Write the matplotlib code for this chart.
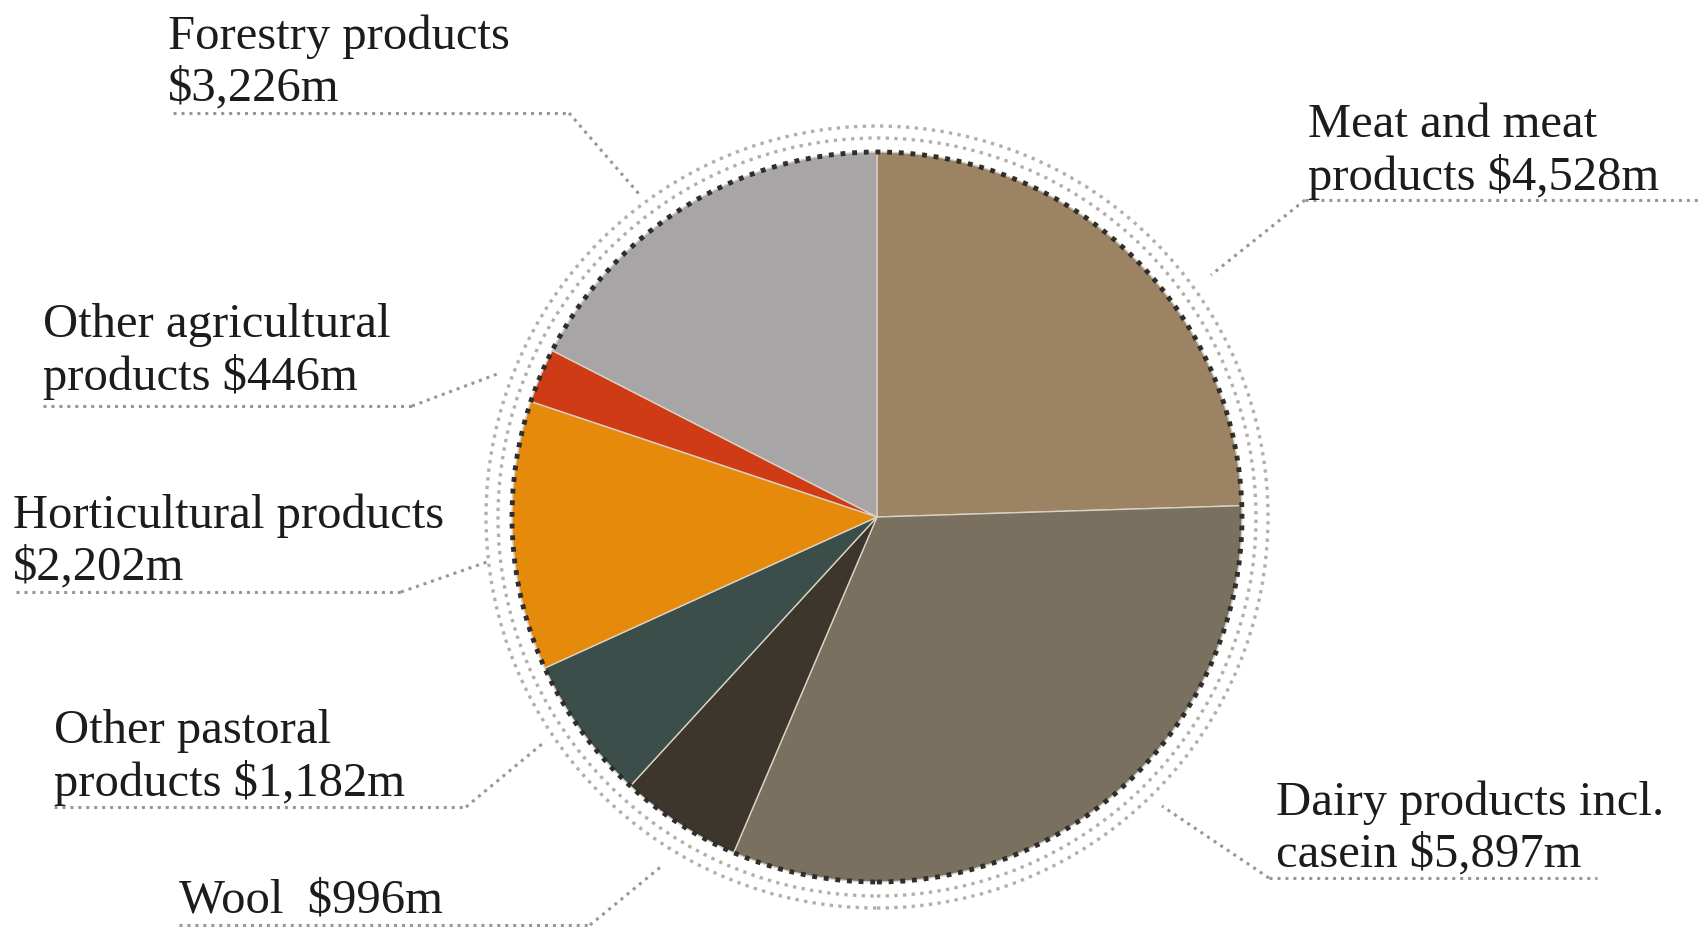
import matplotlib.pyplot as plt
from matplotlib.patches import Circle

# export values, NZ$ million, clockwise from 12 o'clock
categories = ["Meat and meat\nproducts $4,528m", "Dairy products incl.\ncasein $5,897m",
              "Wool  $996m", "Other pastoral\nproducts $1,182m",
              "Horticultural products\n$2,202m", "Other agricultural\nproducts $446m",
              "Forestry products\n$3,226m"]
values = [4528, 5897, 996, 1182, 2202, 446, 3226]
colors = ["#9b8363", "#7a705f", "#3d362c", "#3b4e4a", "#e68a0c", "#cf3b14", "#a8a5a6"]

W, H = 1698, 928
fig = plt.figure(figsize=(W / 100, H / 100), dpi=100)
ax = fig.add_axes([0, 0, 1, 1])

cx, cy, r = 877, H - 518, 365
ax.pie(values, colors=colors, startangle=90, counterclock=False,
       center=(cx, cy), radius=r,
       wedgeprops=dict(edgecolor="#d9d2c4", linewidth=1.0))

# dotted outline + two faint rings
ax.add_patch(Circle((cx, cy), r, fill=False, edgecolor="#2e2e2e",
                    linewidth=3.5, linestyle=(0, (1, 1.4))))
for rr in (r + 14, r + 26):
    ax.add_patch(Circle((cx, cy), rr, fill=False, edgecolor="#b5aea8",
                        linewidth=2.4, linestyle=(0, (1, 1.6))))

# label layout in pixel coords from the top: text x, last baseline, underline y, x0, x1, leader end, joint x
layout = [
    (1308, 190, 201, 1305, 1698, (1211, 276), 1305),
    (1276, 866, 879, 1269, 1597, (1162, 807), 1269),
    (179, 913, 926, 179, 590, (663, 866), 590),
    (54, 796, 808, 54, 466, (542, 745), 466),
    (13, 579, 593, 16, 401, (487, 563), 401),
    (43, 390, 407, 43, 412, (500, 374), 412),
    (168, 100, 114, 173, 569, (639, 195), 569),
]

for lab, (tx, base, uy, x0, x1, end, jx) in zip(categories, layout):
    ax.text(tx, H - base, lab, ha="left", va="baseline", fontsize=35,
            family="Liberation Serif", color="#1c1c1c", linespacing=1.2)
    ax.plot([x0, x1], [H - uy, H - uy], color="#9c9692", linewidth=2.2,
            linestyle=(0, (1, 1.6)))
    ax.plot([jx, end[0]], [H - uy, H - end[1]], color="#9c9692", linewidth=2.2,
            linestyle=(0, (1, 1.6)))

ax.set_xlim(0, W)
ax.set_ylim(0, H)
ax.set_aspect("equal")
ax.axis("off")

plt.savefig("out.png", dpi=100)
